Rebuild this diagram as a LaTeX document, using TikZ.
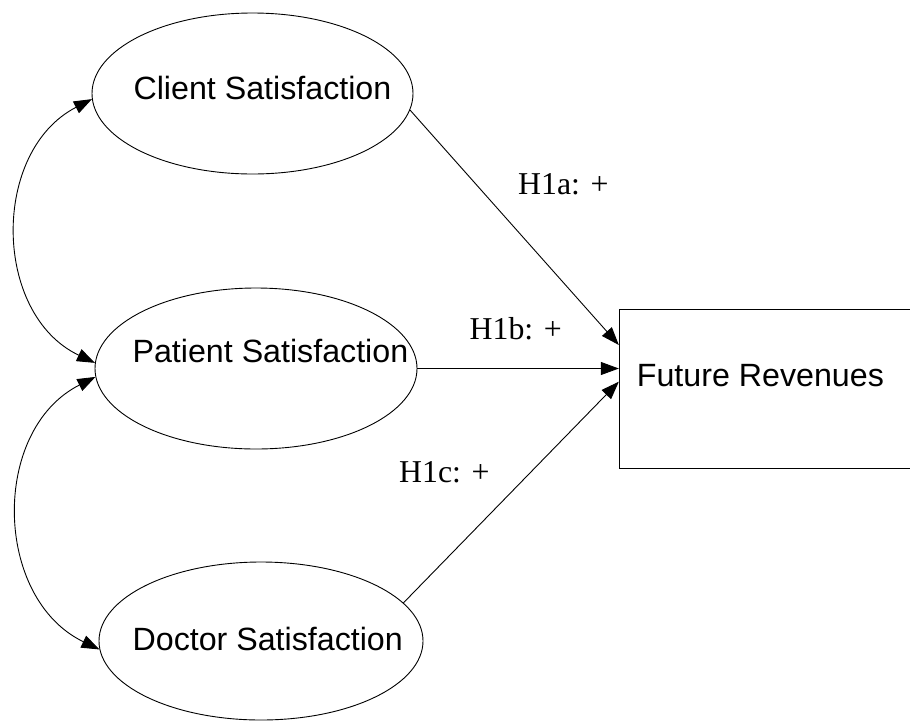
\documentclass[tikz,border=0pt]{standalone}
\usepackage{fontspec}
\setmainfont{Liberation Serif}
\setsansfont{Liberation Sans}
\usetikzlibrary{arrows.meta,shapes.geometric}

\tikzset{
  construct/.style={ellipse, draw, line width=0.9pt, inner sep=0pt},
  outcome/.style={rectangle, draw, line width=0.9pt, inner sep=0pt},
  nametext/.style={inner sep=0pt, anchor=base west,
    font=\sffamily\fontsize{32.2}{38}\selectfont},
  hyptext/.style={inner sep=0pt, anchor=base west,
    font=\rmfamily\fontsize{31.8}{38}\selectfont},
  path arrow/.style={line width=0.9pt, -{Triangle[length=18pt,width=13pt]}},
  corr arrow/.style={line width=0.9pt,
    {Triangle[length=18pt,width=13pt]}-{Triangle[length=18pt,width=13pt]}},
}

\begin{document}
\begin{tikzpicture}[x=1pt, y=-1pt]
  \useasboundingbox (0,0) rectangle (910,721);
  \fill[white] (0,0) rectangle (910,721);
  \clip (0,0) rectangle (910,721);

  % latent constructs
  \node[construct, minimum width=321pt, minimum height=161pt] (client)  at (252.5,93.5) {};
  \node[construct, minimum width=322pt, minimum height=161pt] (patient) at (256,368.5) {};
  \node[construct, minimum width=324pt, minimum height=158pt] (doctor)  at (261,641) {};
  \node[nametext] (clientname)  at (133.4,99)  {Client Satisfaction};
  \node[nametext] (patientname) at (132.4,362.7) {Patient Satisfaction};
  \node[nametext] (doctorname)  at (132.4,650.7) {Doctor Satisfaction};

  % outcome box (runs past the right edge)
  \node[outcome, minimum width=340pt, minimum height=159pt] (future) at (789.3,388.8) {};
  \node[nametext] (futurename) at (636.7,386.7) {Future Revenues};

  % hypothesised paths
  \draw[path arrow] (client.-6.6) -- ([yshift=43.8pt]future.west);
  \draw[path arrow] (patient.east) -- (patient.east -| future.west);
  \draw[path arrow] (doctor.15) -- ([yshift=7.1pt]future.west);

  \node[hyptext] (h1a) at (518,194.3) {H1a: +};
  \node[hyptext] (h1b) at (469.5,339.3) {H1b: +};
  \node[hyptext] (h1c) at (399,482.7) {H1c: +};

  % correlations between the satisfaction constructs
  \draw[corr arrow] (client.182) .. controls +(-101,52) and +(-102.5,-48.7) .. (patient.178);
  \draw[corr arrow] (patient.183.5) .. controls +(-105,53) and +(-106,-51) .. (doctor.183.8);
\end{tikzpicture}
\end{document}
